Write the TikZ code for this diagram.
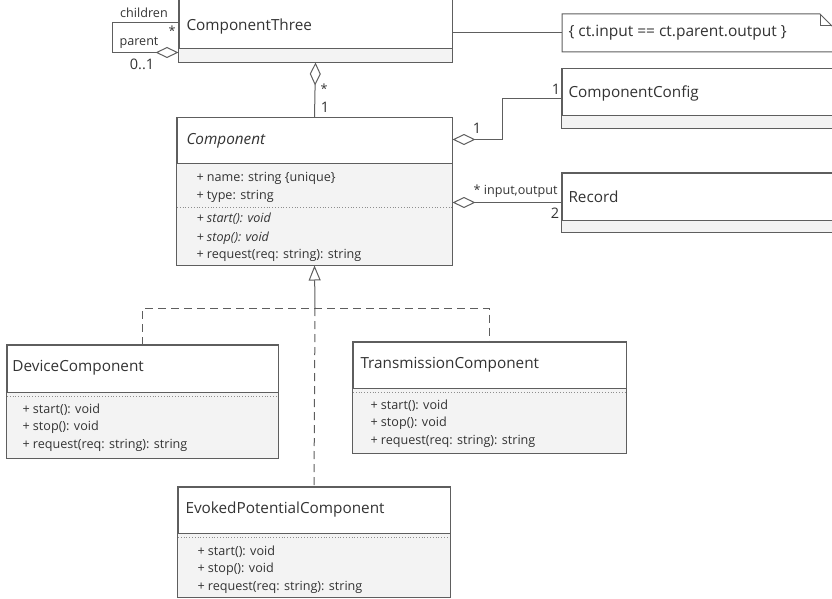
\documentclass[tikz,border=0pt]{standalone}
\usepackage{fontspec}
\setmainfont{Open Sans}
\usetikzlibrary{fit,arrows.meta,calc}
\definecolor{ln}{HTML}{5E5E5E}
\definecolor{cf}{HTML}{F3F3F3}
\definecolor{tx}{HTML}{333333}
\begin{document}
\begin{tikzpicture}[x=1pt,y=-1pt,
  line width=1pt,
  box/.style={draw=ln, inner sep=0pt, fill=white},
  sep/.style={draw=ln},
  dotsep/.style={draw=ln!70, dotted, line width=0.8pt},
  title/.style={anchor=west, inner sep=0pt, text=tx, font=\fontsize{15.3}{17}\selectfont},
  ititle/.style={title, font=\fontsize{15.3}{17}\selectfont\itshape},
  mem/.style={anchor=base west, inner sep=0pt, text=tx, font=\fontsize{12.6}{14}\selectfont},
  imem/.style={mem, font=\fontsize{12.6}{14}\selectfont\itshape},
  lab/.style={inner sep=0pt, text=tx, font=\fontsize{12.6}{14}\selectfont},
  mult/.style={inner sep=0pt, text=tx, font=\fontsize{14.5}{16}\selectfont},
  conn/.style={draw=ln},
  agg/.style={conn, {Diamond[open,length=23pt,width=11pt]}-},
  aggend/.style={conn, -{Diamond[open,length=23pt,width=11pt]}},
  gen/.style={conn, -{Triangle[open,length=15pt,width=12pt]}},
  real/.style={conn, dash pattern=on 8pt off 5pt}
]
\useasboundingbox (0,0) rectangle (832,599);
\clip (0,0) rectangle (832,599);

% ---------- ComponentThree ----------
\node[box, fit={(179,-16)(452,62)}] (ct) {};
\fill[cf] (179,49) rectangle (452,62);
\draw[sep] (179,49) -- (452,49);
\draw[ln] (ct.north west) rectangle (ct.south east);
\node[title] (ctt) at (186,27) {ComponentThree};

% ---------- Note ----------
\node[inner sep=0pt, fit={(562,14)(845,52)}] (note) {};
\draw[ln, fill=white] (562,14) -- (820,14) -- (846,40) -- (846,52) -- (562,52) -- cycle;
\draw[ln] (820,14) -- (820,26) -- (832,26);
\node[title, font=\fontsize{15.5}{17}\selectfont] (nt) at (568,33) {\{ ct.input == ct.parent.output \}};

% ---------- ComponentConfig ----------
\node[box, fit={(562,69)(850,128)}] (cfg) {};
\fill[cf] (562,116) rectangle (850,128);
\draw[sep] (562,116) -- (850,116);
\draw[ln] (cfg.north west) rectangle (cfg.south east);
\node[title] (cfgt) at (568,93) {ComponentConfig};

% ---------- Record ----------
\node[box, fit={(562,173)(850,232)}] (rec) {};
\fill[cf] (562,220) rectangle (850,232);
\draw[sep] (562,220) -- (850,220);
\draw[ln] (rec.north west) rectangle (rec.south east);
\node[title] (rect) at (568,197) {Record};

% ---------- Component ----------
\node[box, fit={(177,118)(452,265)}] (cmp) {};
\fill[cf] (177,163) rectangle (452,265);
\draw[sep] (177,163) -- (452,163);
\draw[dotsep] (177,207) -- (452,207);
\draw[ln] (cmp.north west) rectangle (cmp.south east);
\node[ititle] (cmpt) at (186,141) {Component};
\node[mem] (cmpa1) at (196,181) {+ name: string \{unique\}};
\node[mem] (cmpa2) at (196,199) {+ type: string};
\node[imem] (cmpo1) at (196,222) {+ start(): void};
\node[imem] (cmpo2) at (196,241) {+ stop(): void};
\node[mem] (cmpo3) at (196,258) {+ request(req: string): string};

% ---------- DeviceComponent ----------
\node[box, fit={(7,345)(278,458)}] (dev) {};
\fill[cf] (7,392) rectangle (278,458);
\draw[sep] (7,392) -- (278,392);
\draw[dotsep] (7,396) -- (278,396);
\draw[ln] (dev.north west) rectangle (dev.south east);
\node[title] (devt) at (12,368) {DeviceComponent};
\node[mem] (devo1) at (22,413) {+ start(): void};
\node[mem] (devo2) at (22,430.5) {+ stop(): void};
\node[mem] (devo3) at (22,448) {+ request(req: string): string};

% ---------- TransmissionComponent ----------
\node[box, fit={(353,342)(626,453)}] (tra) {};
\fill[cf] (353,388) rectangle (626,453);
\draw[sep] (353,388) -- (626,388);
\draw[dotsep] (353,392) -- (626,392);
\draw[ln] (tra.north west) rectangle (tra.south east);
\node[title] (trat) at (360,365) {TransmissionComponent};
\node[mem] (trao1) at (370,409) {+ start(): void};
\node[mem] (trao2) at (370,426.5) {+ stop(): void};
\node[mem] (trao3) at (370,444) {+ request(req: string): string};

% ---------- EvokedPotentialComponent ----------
\node[box, fit={(178,487)(450,597)}] (evo) {};
\fill[cf] (178,533) rectangle (450,597);
\draw[sep] (178,533) -- (450,533);
\draw[dotsep] (178,537) -- (450,537);
\draw[ln] (evo.north west) rectangle (evo.south east);
\node[title] (evot) at (185,510) {EvokedPotentialComponent};
\node[mem] (evoo1) at (197,555) {+ start(): void};
\node[mem] (evoo2) at (197,572.5) {+ stop(): void};
\node[mem] (evoo3) at (197,590) {+ request(req: string): string};

% ---------- connectors ----------
% self association on ComponentThree
\coordinate (lp) at (112,0);
\coordinate (pa) at ([yshift=10pt]ct.south west);
\draw[agg] (pa) -- (lp |- pa) -- (lp |- ct.west) -- (ct.west);
\node[lab] (lchild) at (144,13) {children};
\node[lab] (lstar1) at (172,31) {*};
\node[lab] (lpar) at (139,43) {parent};
\node[mult] (l01) at (142,64) {0..1};

% note link
\draw[conn] (note.west) -- (note.west -| ct.east);

% ComponentThree -- Component aggregation
\draw[agg] (ct.south) -- (cmp.north);
\node[lab] (lstar2) at (324,89) {*};
\node[mult] (l1a) at (325,107) {1};

% Component -- ComponentConfig
\draw[agg] ($(cmp.north east)+(0,22)$) -- ++(50,0) |- (cfg.west);
\node[mult] (l1b) at (477,128) {1};
\node[mult] (l1c) at (556,89) {1};

% Component -- Record
\draw[aggend] (rec.west) -- (rec.west -| cmp.east);
\node[lab, anchor=east] (lio) at (558,191) {* input,output};
\node[mult] (l2) at (555,213) {2};

% generalisation / realisation
\coordinate (jn) at (315,308);
\draw[gen] (jn) -- (cmp.south);
\draw[real] (dev.north) -- (dev.north |- jn) -- (tra.north |- jn) -- (tra.north);
\draw[real] (jn) -- (evo.north);
\end{tikzpicture}
\end{document}
